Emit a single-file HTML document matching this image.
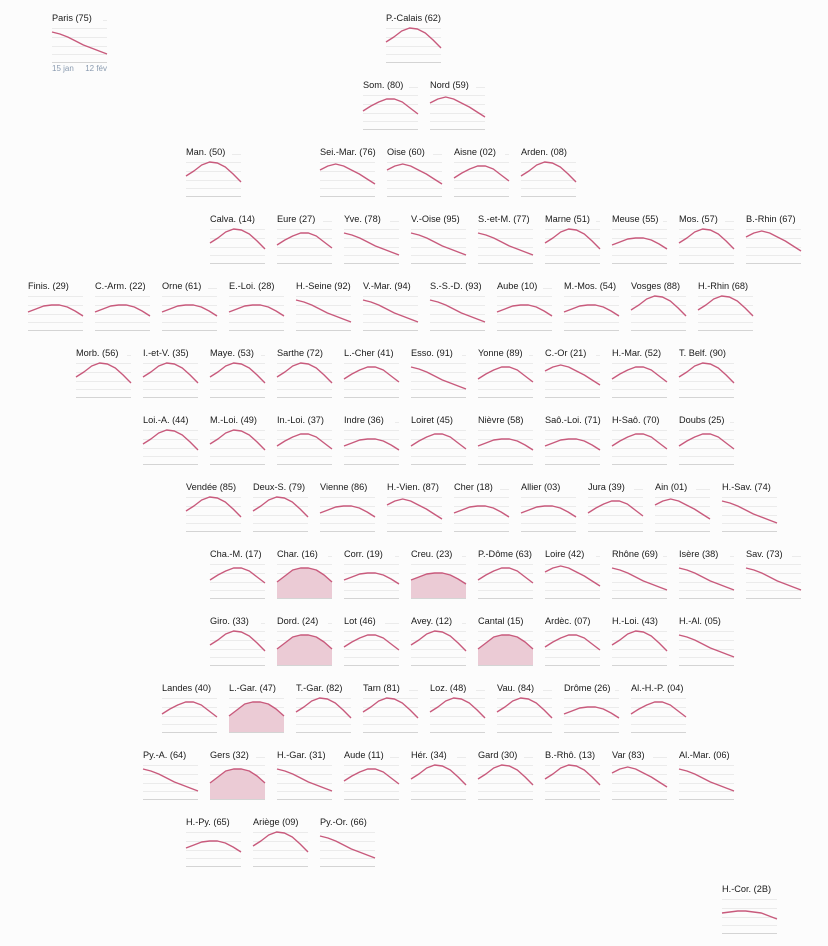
<!DOCTYPE html>
<html><head><meta charset="utf-8"><style>
html,body{margin:0;padding:0;background:#fcfcfc;}
svg{display:block;font-family:"Liberation Sans",sans-serif;}
</style></head><body>
<svg id="s" width="828" height="946" viewBox="0 0 828 946" xmlns="http://www.w3.org/2000/svg"></svg>
<script>
const S={
A:[24,19,13,10,11,15,22,30],
B:[26,21,17,14,14,17,23,29],
F:[26,23,20,19,19,21,25,30],
D:[14,16,19,23,27,30,33,36],
L:[18,14,12,14,18,22,27,32],
G:[28,22,16,14,14,16,21,28],
F2:[24,23,22,22,23,24,27,30]
};
const rows=[
[18,[["Paris (75)",52,"D"],["P.-Calais (62)",386,"A"]]],
[85,[["Som. (80)",363,"B"],["Nord (59)",430,"L"]]],
[152,[["Man. (50)",186,"A"],["Sei.-Mar. (76)",320,"L"],["Oise (60)",387,"L"],["Aisne (02)",454,"B"],["Arden. (08)",521,"A"]]],
[219,[["Calva. (14)",210,"A"],["Eure (27)",277,"B"],["Yve. (78)",344,"D"],["V.-Oise (95)",411,"D"],["S.-et-M. (77)",478,"D"],["Marne (51)",545,"A"],["Meuse (55)",612,"F"],["Mos. (57)",679,"A"],["B.-Rhin (67)",746,"L"]]],
[286,[["Finis. (29)",28,"F"],["C.-Arm. (22)",95,"F"],["Orne (61)",162,"F"],["E.-Loi. (28)",229,"F"],["H.-Seine (92)",296,"D"],["V.-Mar. (94)",363,"D"],["S.-S.-D. (93)",430,"D"],["Aube (10)",497,"F"],["M.-Mos. (54)",564,"F"],["Vosges (88)",631,"A"],["H.-Rhin (68)",698,"A"]]],
[353,[["Morb. (56)",76,"A"],["I.-et-V. (35)",143,"A"],["Maye. (53)",210,"A"],["Sarthe (72)",277,"A"],["L.-Cher (41)",344,"B"],["Esso. (91)",411,"D"],["Yonne (89)",478,"B"],["C.-Or (21)",545,"L"],["H.-Mar. (52)",612,"B"],["T. Belf. (90)",679,"A"]]],
[420,[["Loi.-A. (44)",143,"A"],["M.-Loi. (49)",210,"A"],["In.-Loi. (37)",277,"B"],["Indre (36)",344,"F"],["Loiret (45)",411,"B"],["Nièvre (58)",478,"F"],["Saô.-Loi. (71)",545,"F"],["H-Saô. (70)",612,"B"],["Doubs (25)",679,"B"]]],
[487,[["Vendée (85)",186,"A"],["Deux-S. (79)",253,"A"],["Vienne (86)",320,"F"],["H.-Vien. (87)",387,"L"],["Cher (18)",454,"F"],["Allier (03)",521,"F"],["Jura (39)",588,"B"],["Ain (01)",655,"L"],["H.-Sav. (74)",722,"D"]]],
[554,[["Cha.-M. (17)",210,"B"],["Char. (16)",277,"G",1],["Corr. (19)",344,"F"],["Creu. (23)",411,"F",1],["P.-Dôme (63)",478,"B"],["Loire (42)",545,"L"],["Rhône (69)",612,"D"],["Isère (38)",679,"D"],["Sav. (73)",746,"D"]]],
[621,[["Giro. (33)",210,"A"],["Dord. (24)",277,"G",1],["Lot (46)",344,"B"],["Avey. (12)",411,"A"],["Cantal (15)",478,"G",1],["Ardèc. (07)",545,"B"],["H.-Loi. (43)",612,"A"],["H.-Al. (05)",679,"D"]]],
[688,[["Landes (40)",162,"B"],["L.-Gar. (47)",229,"G",1],["T.-Gar. (82)",296,"A"],["Tarn (81)",363,"A"],["Loz. (48)",430,"A"],["Vau. (84)",497,"A"],["Drôme (26)",564,"F"],["Al.-H.-P. (04)",631,"B"]]],
[755,[["Py.-A. (64)",143,"D"],["Gers (32)",210,"G",1],["H.-Gar. (31)",277,"D"],["Aude (11)",344,"B"],["Hér. (34)",411,"A"],["Gard (30)",478,"A"],["B.-Rhô. (13)",545,"A"],["Var (83)",612,"L"],["Al.-Mar. (06)",679,"D"]]],
[822,[["H.-Py. (65)",186,"F"],["Ariège (09)",253,"A"],["Py.-Or. (66)",320,"D"]]],
[889,[["H.-Cor. (2B)",722,"F2"]]]
];
let h="";
for(const [y,cells] of rows){for(const [n,x,sh,fill] of cells){
 const w=55;
 for(const g of [2,10,19,28,36]) h+=`<line x1="${x}" x2="${x+w}" y1="${y+g}.5" y2="${y+g}.5" stroke="#ebebeb" stroke-width="1"/>`;
 h+=`<line x1="${x}" x2="${x+w}" y1="${y+44}.5" y2="${y+44}.5" stroke="#d4d4d4" stroke-width="1"/>`;
 const v=S[sh];const pts=v.map((d,i)=>`${(x+i*w/7).toFixed(1)},${y+d}`).join(" ");
 if(fill) h+=`<polygon points="${x},${y+44} ${pts} ${x+w},${y+44}" fill="#ebcbd5"/>`;
 h+=`<polyline points="${pts}" fill="none" stroke="#c85a7c" stroke-width="1.4" stroke-linejoin="round"/>`;
 h+=`<rect x="${x-1}" y="${y-7}" width="${n.length*5+2}" height="12" fill="#fcfcfc"/>`;
 h+=`<text x="${x}" y="${y+3}" font-size="9.2" fill="#1a1a1a">${n}</text>`;
 if(n==="Paris (75)"){h+=`<text x="${x}" y="${y+53}" font-size="8" fill="#8a9bb0">15 jan</text><text x="${x+55}" y="${y+53}" font-size="8" fill="#8a9bb0" text-anchor="end">12 fév</text>`;}
}}
document.getElementById("s").innerHTML=h;
</script>
</body></html>
